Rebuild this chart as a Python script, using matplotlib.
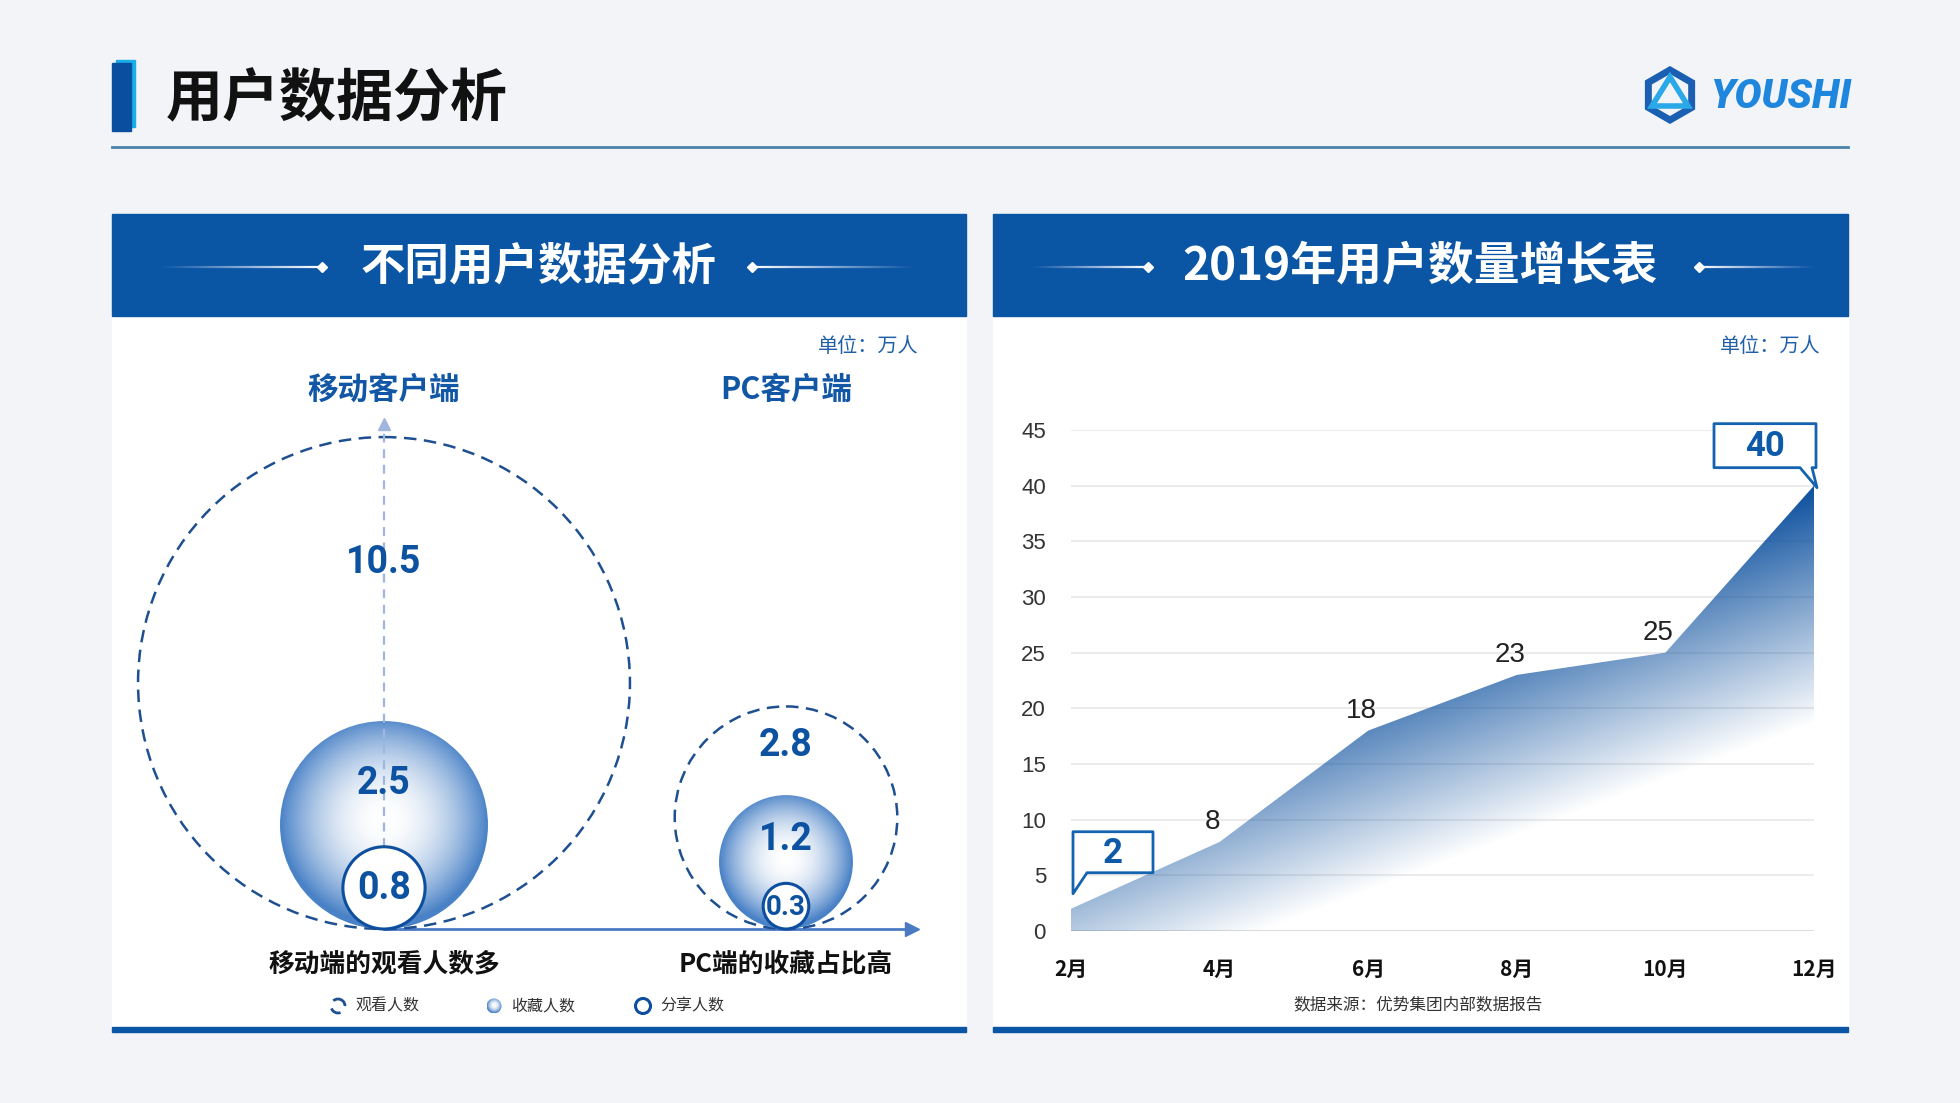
import numpy as np
import matplotlib
matplotlib.use('Agg')
import matplotlib.pyplot as plt
from matplotlib.patches import Rectangle, Circle, Polygon, RegularPolygon
from matplotlib.collections import LineCollection

plt.rcParams['font.family'] = ['Noto Sans CJK SC', 'DejaVu Sans']

# ---- data ----
platforms = ['移动客户端', 'PC客户端']
watch = [10.5, 2.8]
collect = [2.5, 1.2]
share = [0.8, 0.3]
conclusions = ['移动端的观看人数多', 'PC端的收藏占比高']
legend_labels = ['观看人数', '收藏人数', '分享人数']

months = ['2月', '4月', '6月', '8月', '10月', '12月']
users = [2, 8, 18, 23, 25, 40]

W, H = 1960, 1103
BLUE = '#0b55a5'
NUM_BLUE = '#0d52a0'

fig = plt.figure(figsize=(W / 100, H / 100), dpi=100)
fig.patch.set_facecolor('#f2f4f7')

# background canvas in pixel units (y down)
bg = fig.add_axes([0, 0, 1, 1], zorder=0)
bg.set_xlim(0, W)
bg.set_ylim(H, 0)
bg.axis('off')

# page title
bg.add_patch(Rectangle((116, 60), 19, 67, color='#19aee8'))
bg.add_patch(Rectangle((112, 63), 19, 68, color='#0a4f9f'))
bg.text(166, 99, '用户数据分析', fontsize=41, fontweight='black', color='#111111',
        ha='left', va='center')
bg.plot([112, 1848], [147, 147], color='#4a82aa', lw=2)

# logo
bg.add_patch(RegularPolygon((1670, 95), numVertices=6, radius=25, orientation=0,
                            fill=False, edgecolor='#1b5fb3', lw=5))
bg.add_patch(Polygon([(1670, 77), (1652, 106), (1688, 106)], closed=True, fill=False,
                     edgecolor='#2aa8e8', lw=4))
bg.text(1710, 97, 'YOUSHI', fontsize=29, fontstyle='italic', fontweight='heavy',
        color='#1e86dd', family=['Roboto', 'DejaVu Sans'], ha='left', va='center')


def header_deco(ax, x_out, x_in, y):
    xs = np.linspace(x_out, x_in, 40)
    segs = [[(xs[i], y), (xs[i + 1], y)] for i in range(len(xs) - 1)]
    alphas = np.linspace(0.0, 1.0, len(segs))
    cols = [(1, 1, 1, a) for a in alphas]
    ax.add_collection(LineCollection(segs, colors=cols, lw=1.6))
    ax.plot([x_in], [y], marker='D', ms=5, color='white', mec='white')


# panels
panels = [(112, 966, '不同用户数据分析', 32, 539, (159, 322), (752, 916)),
          (993, 1848, '2019年用户数量增长表', 33, 1420, (1031, 1148), (1699, 1815))]
for x0, x1, title, fs, tx, ldec, rdec in panels:
    bg.add_patch(Rectangle((x0, 316), x1 - x0, 711, color='white'))
    bg.add_patch(Rectangle((x0, 214), x1 - x0, 102, color=BLUE))
    bg.add_patch(Rectangle((x0, 1027), x1 - x0, 5, color=BLUE))
    bg.text(tx, 266, title, fontsize=fs, fontweight='bold', color='white',
            ha='center', va='center')
    header_deco(bg, ldec[0], ldec[1], 267)
    header_deco(bg, rdec[1], rdec[0], 267)

bg.text(919, 346, '单位：万人', fontsize=14.5, color='#1f5fa8', ha='right', va='center')
bg.text(1821, 346, '单位：万人', fontsize=14.5, color='#1f5fa8', ha='right', va='center')
bg.text(1418, 1005, '数据来源：优势集团内部数据报告', fontsize=12, color='#333333',
        ha='center', va='center')

# ---- right: area chart ----
ax = fig.add_axes([1071 / W, (H - 931) / H, 743 / W, 501 / H], zorder=2)
ax.set_facecolor('none')
x = np.arange(len(months))
ax.set_xlim(0, len(months) - 1)
ax.set_ylim(0, 45)
ax.set_yticks(np.arange(0, 50, 5))
ax.set_xticks(x)
ax.set_xticklabels(months, fontsize=15, fontweight='bold', color='#111111')
for lab in ax.get_yticklabels():
    lab.set_family(['Liberation Sans', 'DejaVu Sans'])
    lab.set_fontsize(16)
    lab.set_color('#333333')
ax.tick_params(length=0)
ax.tick_params(axis='y', pad=18)
ax.tick_params(axis='x', pad=20)
ax.yaxis.grid(True, color='#ececec', lw=1.5)
ax.set_axisbelow(True)
for s in ax.spines.values():
    s.set_visible(False)
ax.axhline(0, color='#dcdcdc', lw=2, zorder=1)

verts = [(x[0], 0)] + list(zip(x, users)) + [(x[-1], 0)]
area = Polygon(verts, closed=True, facecolor='none', edgecolor='none')
ax.add_patch(area)

# diagonal gradient, dark near the peak, fading down-right
nx, ny = 500, 400
gx = np.linspace(0, len(months) - 1, nx)
gy = np.linspace(45, 0, ny)
GX, GY = np.meshgrid(gx, gy)
disp = ax.transData.transform(np.column_stack([GX.ravel(), GY.ravel()]))
proj = 0.376 * disp[:, 0] + (H - disp[:, 1])
peak = ax.transData.transform((x[-1], max(users)))
p0 = 0.376 * peak[0] + (H - peak[1])
t = np.clip((proj - p0) / 238.0, 0, 1).reshape(ny, nx)
img = np.zeros((ny, nx, 4))
img[..., 0] = 11 / 255
img[..., 1] = 79 / 255
img[..., 2] = 158 / 255
img[..., 3] = 1 - t
im = ax.imshow(img, extent=(0, len(months) - 1, 0, 45), aspect='auto', origin='upper',
               zorder=2, interpolation='bilinear')
im.set_clip_path(area)
ax.set_xlim(0, len(months) - 1)
ax.set_ylim(0, 45)

for xi, v in zip(x[1:-1], users[1:-1]):
    ax.annotate(str(v), (xi, v), xytext=(-5, 14), textcoords='offset points',
                ha='center', va='center', fontsize=20, color='#222222',
                family=['Liberation Sans', 'DejaVu Sans'], zorder=4)

# foreground canvas for callouts and infographic
fg = fig.add_axes([0, 0, 1, 1], zorder=3)
fg.set_xlim(0, W)
fg.set_ylim(H, 0)
fg.axis('off')
fg.patch.set_visible(False)


def to_px(xi, v):
    d = ax.transData.transform((xi, v))
    return d[0], H - d[1]


def callout(px, py, text, side):
    if side == 'left':
        bx0, bx1, by0, by1 = px + 2, px + 82, py - 77, py - 36
        pts = [(bx0, by0), (bx1, by0), (bx1, by1), (bx0 + 14, by1), (bx0, by1 + 21), (bx0, by1)]
    else:
        bx0, bx1, by0, by1 = px - 100, px + 2, py - 62, py - 18
        pts = [(bx0, by0), (bx1, by0), (bx1, by1), (bx1 - 4, by1), (px + 3, py + 2),
               (bx1 - 16, by1), (bx0, by1)]
    fg.add_patch(Polygon(pts, closed=True, facecolor='white', edgecolor='#1463b0',
                         lw=2, joinstyle='round'))
    fg.text((bx0 + bx1) / 2, (by0 + by1) / 2 + 1, text, fontsize=25, fontweight='bold',
            color='#0f5aa8', family=['Roboto', 'DejaVu Sans'], ha='center', va='center')


callout(*to_px(x[0], users[0]), str(users[0]), 'left')
callout(*to_px(x[-1], users[-1]), str(users[-1]), 'right')

# ---- left: bubble infographic ----
base_y = 929
group_x = [384, 786]


def rad(v, k=60.0):
    return k * v ** 0.6


def sphere(cx, cy, r, z=4):
    n = 240
    yy, xx = np.mgrid[-1:1:n * 1j, -1:1:n * 1j]
    d = np.clip(np.sqrt(xx ** 2 + (yy + 0.05) ** 2), 0, 1)
    f = d ** 2.0
    edge = np.array([0.29, 0.51, 0.78])
    rgb = (1 - f)[..., None] * np.ones(3) + f[..., None] * edge
    im2 = fg.imshow(rgb, extent=(cx - r, cx + r, cy + r, cy - r), origin='upper',
                    zorder=z, interpolation='bilinear')
    clip = Circle((cx, cy), r, transform=fg.transData)
    im2.set_clip_path(clip)


# baseline arrow
fg.plot([group_x[0], 910], [base_y, base_y], color='#4a7ac4', lw=2, zorder=3)
fg.plot([912], [base_y], marker='>', ms=10, color='#4a7ac4', zorder=3)

for i, gx0 in enumerate(group_x):
    rw, rc, rs = rad(watch[i]), rad(collect[i]), rad(share[i], 47.0)
    fg.add_patch(Circle((gx0, base_y - rw), rw, fill=False, edgecolor='#1d4f91',
                        lw=1.8, linestyle=(0, (5, 3)), zorder=3))
    sphere(gx0, base_y - rc, rc)
    if i == 0:
        fg.plot([gx0, gx0], [base_y - 2 * rs, 426], color='#a0b6de', lw=1.6,
                linestyle=(0, (4, 3)), zorder=5)
        fg.plot([gx0], [424], marker='^', ms=8, color='#a0b6de', zorder=5)
    fg.add_patch(Circle((gx0, base_y - rs), rs, facecolor='white', edgecolor='#0d4f9e',
                        lw=2.2, zorder=6))
    top_w, top_c = base_y - 2 * rw, base_y - 2 * rc
    fg.text(gx0, top_w + 0.44 * (top_c - top_w), str(watch[i]), fontsize=27,
            fontweight='bold', color=NUM_BLUE, family=['Roboto', 'DejaVu Sans'],
            ha='center', va='center', zorder=7)
    fg.text(gx0, (top_c + base_y - 2 * rs) / 2, str(collect[i]), fontsize=27,
            fontweight='bold', color=NUM_BLUE, family=['Roboto', 'DejaVu Sans'],
            ha='center', va='center', zorder=7)
    fg.text(gx0, base_y - rs + 1, str(share[i]), fontsize=27 if i == 0 else 20,
            fontweight='bold', color=NUM_BLUE, family=['Roboto', 'DejaVu Sans'],
            ha='center', va='center', zorder=7)
    fg.text(gx0, 390, platforms[i], fontsize=22, fontweight='bold', color='#1257a6',
            ha='center', va='center')
    fg.text(gx0, 964, conclusions[i], fontsize=18.5, fontweight='heavy', color='#111111',
            ha='center', va='center')

# legend
leg_y = 1006
icon_x = [338, 494, 643]
fg.add_patch(Circle((icon_x[0], leg_y), 7, fill=False, edgecolor='#1d4f91', lw=2,
                    linestyle=(0, (4, 3))))
sphere(icon_x[1], leg_y, 7.5)
fg.add_patch(Circle((icon_x[2], leg_y), 7.5, fill=False, edgecolor='#0d4f9e', lw=2.2))
for ix, lab in zip(icon_x, legend_labels):
    fg.text(ix + 17, leg_y, lab, fontsize=11.5, color='#333333', ha='left', va='center')

fg.set_xlim(0, W)
fg.set_ylim(H, 0)

fig.savefig('out.png', dpi=100, facecolor=fig.get_facecolor())
